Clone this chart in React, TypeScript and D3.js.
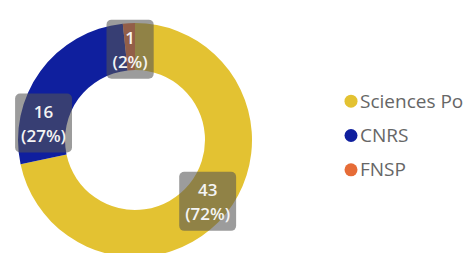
import React, { useEffect, useRef } from 'react';
import * as d3 from 'd3';

const categories = ['Sciences Po', 'CNRS', 'FNSP'];
const counts = [43, 16, 1];
const percents = ['72%', '27%', '2%'];
const colors = ['#E3C232', '#0F1F9E', '#E66C37'];
// where along each slice its label sits (0 = start, 1 = end)
const labelAt = [0.5, 0.25, 0.5];

const App = () => {
  const ref = useRef<SVGSVGElement>(null);

  useEffect(() => {
    const width = 472;
    const height = 253;
    const cx = 135;
    const cy = 140;
    const outer = 117;
    const inner = 70;
    const font = '"Open Sans", sans-serif';

    const svg = d3.select(ref.current).attr('width', width).attr('height', height);
    svg.selectAll('*').remove();

    const pie = d3.pie<number>().sort(null).startAngle(0).endAngle(Math.PI * 2);
    const arcs = pie(counts);
    const arc = d3.arc<d3.PieArcDatum<number>>().innerRadius(inner).outerRadius(outer);

    const g = svg.append('g').attr('transform', `translate(${cx},${cy})`);

    g.selectAll('path.slice')
      .data(arcs)
      .enter()
      .append('path')
      .attr('class', 'slice')
      .attr('d', arc)
      .attr('fill', (d, i) => colors[i]);

    // data labels
    const labels = g.selectAll('g.lbl')
      .data(arcs)
      .enter()
      .append('g')
      .attr('class', 'lbl')
      .attr('transform', (d, i) => {
        const a = d.startAngle + (d.endAngle - d.startAngle) * labelAt[i];
        const [x, y] = arc.centroid({ ...d, startAngle: a, endAngle: a });
        return `translate(${x},${y + 2})`;
      });

    const box = labels.append('rect')
      .attr('y', -29)
      .attr('height', 59)
      .attr('rx', 5)
      .attr('fill', 'rgba(85,85,85,0.58)');

    labels.append('text')
      .attr('text-anchor', 'middle')
      .attr('y', -5)
      .attr('fill', '#f4f4f4')
      .style('font-family', font)
      .style('font-size', '17px')
      .style('font-weight', 600)
      .text((d, i) => counts[i]);

    const pct = labels.append('text')
      .attr('text-anchor', 'middle')
      .attr('y', 19)
      .attr('fill', '#f4f4f4')
      .style('font-family', font)
      .style('font-size', '17px')
      .style('font-weight', 600)
      .text((d, i) => `(${percents[i]})`);

    // size each box to its text
    box.each(function (d, i) {
      const w = (pct.nodes()[i] as SVGTextElement).getComputedTextLength() + 12;
      d3.select(this).attr('x', -w / 2).attr('width', w);
    });

    // legend
    const legendY = d3.scaleBand().domain(categories).range([84, 187]);
    const items = svg.append('g').selectAll('g')
      .data(categories)
      .enter()
      .append('g')
      .attr('transform', d => `translate(351,${(legendY(d) ?? 0) + legendY.bandwidth() / 2})`);

    items.append('circle').attr('r', 6.5).attr('fill', (d, i) => colors[i]);
    items.append('text')
      .attr('x', 9)
      .attr('dy', '0.35em')
      .attr('fill', '#666')
      .style('font-family', font)
      .style('font-size', '19px')
      .text(d => d);
  }, []);

  return <svg ref={ref} style={{ position: 'absolute', left: 0, top: 0 }}></svg>;
};

export default App;
